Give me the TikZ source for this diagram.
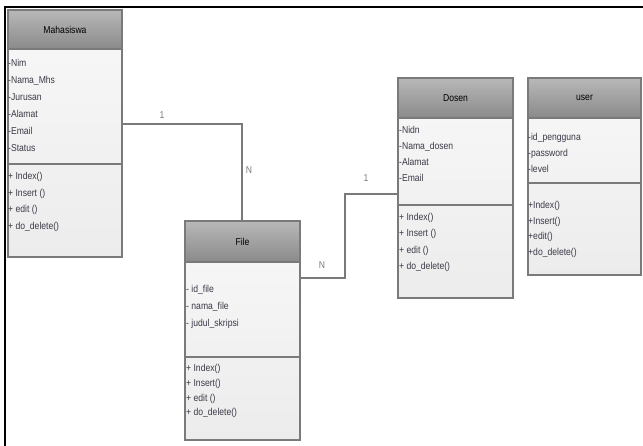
\documentclass[tikz,border=0pt]{standalone}
\usepackage{fontspec}
\setmainfont{Liberation Sans}[FakeStretch=0.86]
\usetikzlibrary{shadows}
\definecolor{hdtop}{HTML}{B8B8B8}
\definecolor{hdbot}{HTML}{8A8A8A}
\definecolor{bdtop}{HTML}{F8F8F8}
\definecolor{bdbot}{HTML}{ECECEC}
\definecolor{edge}{HTML}{7A7A7A}
\definecolor{txt}{HTML}{3A3A48}
\tikzset{
  classbody/.style={draw=edge, line width=1.1pt, top color=bdtop, bottom color=bdbot,
    anchor=north west, inner sep=0pt, outer sep=0pt,
    drop shadow={shadow xshift=1.2pt, shadow yshift=-1.2pt, opacity=0.35}},
  classhead/.style={draw=edge, line width=1.1pt, top color=hdtop, bottom color=hdbot,
    anchor=north west, inner sep=0pt, outer sep=0pt},
  title/.style={font=\fontsize{10}{11}\selectfont, text=black, inner sep=0pt},
  member/.style={font=\fontsize{10}{11}\selectfont, text=txt, anchor=west, inner sep=0pt,
    text height=7.2pt, text depth=0pt},
  sepline/.style={draw=edge, line width=1.1pt},
  link/.style={draw=edge, line width=1.4pt},
  mult/.style={font=\fontsize{10}{11}\selectfont, text=edge, inner sep=0pt}
}
\begin{document}
\begin{tikzpicture}[x=1pt, y=-1pt]
\useasboundingbox (0,0) rectangle (643,446);
% frame
\draw[line width=1.3pt, black] (643,7) -- (5,7) -- (5,446);

% ---------- Mahasiswa ----------
\node[classbody, minimum width=114pt, minimum height=247pt] (mhs) at (8,10) {};
\node[classhead, minimum width=114pt, minimum height=39pt] (mhsH) at (8,10) {};
\node[title] (mhsT) at (mhsH.center) {Mahasiswa};
\draw[sepline] (8,164) -- (122,164);
\foreach \t [count=\i] in {-Nim,-Nama\_Mhs,-Jurusan,-Alamat,-Email,-Status}
  \node[member] (mA\i) at (8,{63+17*(\i-1)}) {\t};
\foreach \t [count=\i] in {+ Index(),+ Insert (),+ edit (),+ do\_delete()}
  \node[member] (mM\i) at (8,{176+16.6*(\i-1)}) {\t};

% ---------- File ----------
\node[classbody, minimum width=115pt, minimum height=219pt] (file) at (185,221) {};
\node[classhead, minimum width=115pt, minimum height=41pt] (fileH) at (185,221) {};
\node[title] (fileT) at (fileH.center) {File};
\draw[sepline] (185,357) -- (300,357);
\foreach \t [count=\i] in {- id\_file,- nama\_file,- judul\_skripsi}
  \node[member] (fA\i) at (186,{289+17*(\i-1)}) {\t};
\foreach \t [count=\i] in {+ Index(),+ Insert(),+ edit (),+ do\_delete()}
  \node[member] (fM\i) at (186,{368+14.8*(\i-1)}) {\t};

% ---------- Dosen ----------
\node[classbody, minimum width=115pt, minimum height=220pt] (dsn) at (398,78) {};
\node[classhead, minimum width=115pt, minimum height=40pt] (dsnH) at (398,78) {};
\node[title] (dsnT) at (dsnH.center) {Dosen};
\draw[sepline] (398,205) -- (513,205);
\foreach \t [count=\i] in {-Nidn,-Nama\_dosen,-Alamat,-Email}
  \node[member] (dA\i) at (399,{130+16*(\i-1)}) {\t};
\foreach \t [count=\i] in {+ Index(),+ Insert (),+ edit (),+ do\_delete()}
  \node[member] (dM\i) at (399,{217+16.3*(\i-1)}) {\t};

% ---------- user ----------
\node[classbody, minimum width=113pt, minimum height=197pt] (usr) at (528,78) {};
\node[classhead, minimum width=113pt, minimum height=40pt] (usrH) at (528,78) {};
\node[title] (usrT) at (usrH.center) {user};
\draw[sepline] (528,183) -- (641,183);
\foreach \t [count=\i] in {-id\_pengguna,-password,-level}
  \node[member] (uA\i) at (528,{137+16*(\i-1)}) {\t};
\foreach \t [count=\i] in {+Index(),+Insert(),+edit(),+do\_delete()}
  \node[member] (uM\i) at (528,{205+15.7*(\i-1)}) {\t};

% ---------- connectors ----------
\coordinate (k1) at (242,124);
\draw[link] (mhs.east |- k1) -- (k1) -- (k1 |- fileH.north);
\node[mult] (m1a) at (162,115) {1};
\node[mult] (m1b) at (249,170) {N};

\coordinate (k2) at (345,278);
\coordinate (k3) at (345,194);
\draw[link] (file.east |- k2) -- (k2) -- (k3) -- (k3 -| dsn.west);
\node[mult] (m2a) at (366,178) {1};
\node[mult] (m2b) at (322,265) {N};
\end{tikzpicture}
\end{document}
